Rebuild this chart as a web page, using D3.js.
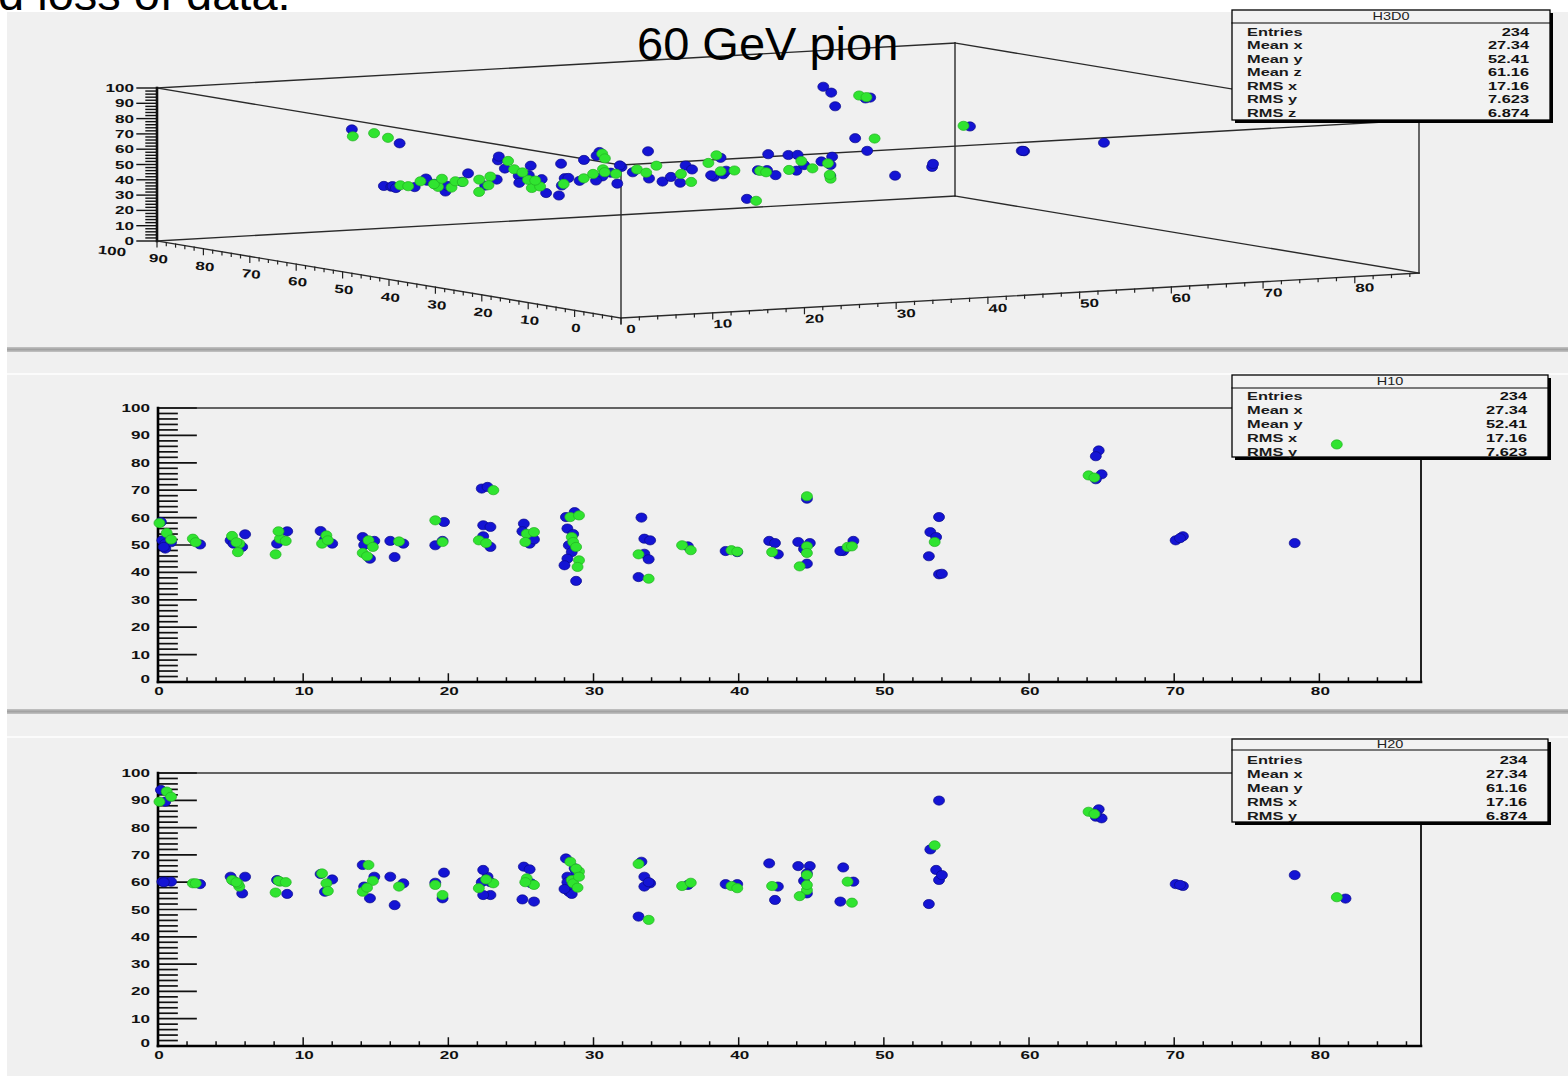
<!DOCTYPE html>
<html>
<head>
<meta charset="utf-8">
<script src="https://cdn.jsdelivr.net/npm/d3@7"></script>
<style>
  html, body { margin: 0; padding: 0; background: #ffffff; overflow: hidden; }
  svg { display: block; }
</style>
</head>
<body>
<svg id="canvas" width="1568" height="1076"></svg>
<script>
// Hits as [x, y, z] in detector cell units; two hit collections.
const hitsBlue = [
  [0.2,58.4,93.8],[0.5,48.7,89.5],[0.3,51.7,60.2],[0.5,50.5,60.2],[0.9,51,60.2],[0.4,49.3,60],
  [2.9,50.2,59.3],
  [5.0,51.7,62],[6.0,53.9,62],[5.8,49.3,55.9],[5.2,50.5,60.5],
  [8.2,50.5,60.8],[8.9,55,55.7],
  [11.2,55.1,63],[12.0,50.5,61],[11.5,52,56.5],
  [14.1,52.9,66.3],[14.9,51.5,62],[14.6,45,54.1],[14.2,50,58.4],
  [16.3,45.6,51.6],[16.9,50.5,59.6],[16.0,51.5,62],
  [19.7,58.4,63.5],[19.1,49.9,59.8],[19.6,51.5,54.1],
  [22.3,70.6,60],[22.7,71.2,62],[22.4,57.2,64.5],[22.9,56.6,55.3],[22.4,53.2,55.3],[22.9,49.3,60],
  [25.2,57.8,65.7],[25.6,50.5,64.7],[25.7,53,59.6],[25.1,55,53.7],[25.9,52,52.9],
  [28.1,60.2,68.7],[28.7,62,65.1],[28.2,56,62],[28.6,54,58.4],[28.3,49.9,56.5],[28.5,47.4,55.7],
  [28.2,45,60],[28.0,42.6,57.5],[28.8,36.9,64],
  [33.3,60,67.5],[33.5,52.3,62],[33.9,51.7,59.6],[33.5,46.8,58.4],[33.8,44.8,60],[33.1,38.3,47.4],
  [36.5,49.5,59],
  [39.1,47.8,59.3],[39.9,47.4,59.3],
  [42.1,51.5,66.9],[42.5,50.7,53.5],[42.7,46.6,58.4],
  [44.7,66.9,55.9],[44.1,51.1,65.9],[44.9,50.7,65.9],[44.7,43.2,63.2],[44.5,48.5,60.5],
  [47.2,47.8,65.4],[47.0,47.8,52.9],[47.9,51.5,60.2],
  [53.8,60.2,89.9],[53.2,54.7,72],[53.6,52.9,64.5],[53.1,45.9,52],[53.8,39.3,60.8],[54.0,39.5,62.6],
  [64.8,84.5,86.7],[64.6,82.4,84],[65.0,75.8,83.4],[64.6,74,85],
  [70.1,51.7,59.3],[70.6,53.2,58.6],[70.4,52.5,59],
  [78.3,50.7,62.6],
  [81.8,86.5,54]
];
const hitsGreen = [
  [0.1,58,89.5],[0.6,54.4,93.2],[0.9,52,91.3],
  [2.4,52.3,59.6],[2.6,51,59.6],
  [5.1,53.3,60.8],[5.6,50.5,58.4],[5.5,47.4,59.5],[5.4,51,60],
  [8.1,46.6,56.2],[8.4,52.3,60.2],[8.3,55,60.5],[8.8,51.5,60],
  [11.3,50.5,63.2],[11.6,53.5,59.6],[11.7,51.7,56.8],
  [14.5,51.7,66.3],[14.1,47.1,56.5],[14.8,49.3,60.5],[14.4,45.9,58],
  [16.6,51.3,58.4],
  [19.1,59,59],[19.6,51.1,55.3],
  [23.1,70,59.6],[22.1,51.7,57.8],[22.6,50.7,61],
  [25.4,54.1,61.4],[25.9,54.7,59],[25.3,51.1,60],
  [28.4,60.2,67.5],[29.0,60.8,63.9],[28.5,52.9,60.8],[28.6,51.1,59.6],[28.8,49.3,65],[29.0,44.4,62],[28.9,42,58],
  [33.1,46.6,66.7],[33.8,37.7,46.2],
  [36.1,49.9,58.6],[36.7,48.1,59.8],
  [39.5,48.1,58.6],[39.9,47.6,57.8],
  [42.3,47.4,58.6],
  [44.7,67.8,57.1],[44.7,49.5,62.6],[44.7,47.1,59],[44.2,42.2,54.9],
  [47.5,49.3,60.2],[47.8,49.5,52.5],
  [53.5,51.1,73.5],
  [64.1,75.4,85.8],[64.5,74.6,85],
  [81.2,86.7,54.5]
];

// Axis ranges and tick labels
const xRange = [0, 87];
const vRange = [0, 100];
const xTickLabels = [0, 10, 20, 30, 40, 50, 60, 70, 80];
const vTickLabels = [0, 10, 20, 30, 40, 50, 60, 70, 80, 90, 100];

// Statistics boxes
const statNames3D = ["Entries", "Mean x", "Mean y", "Mean z", "RMS x", "RMS y", "RMS z"];
const statValues3D = ["234", "27.34", "52.41", "61.16", "17.16", "7.623", "6.874"];
const statNamesXY = ["Entries", "Mean x", "Mean y", "RMS x", "RMS y"];
const statValuesXY = ["234", "27.34", "52.41", "17.16", "7.623"];
const statNamesXZ = ["Entries", "Mean x", "Mean y", "RMS x", "RMS y"];
const statValuesXZ = ["234", "27.34", "61.16", "17.16", "6.874"];

const titleText = "60 GeV pion";
const headerText = "d loss of data.";

const COL_BLUE = "#1414d4";
const COL_GREEN = "#30e430";
const SX = 1.45;        // horizontal stretch of the canvas text
const FONT = '"Liberation Sans", Arial, Helvetica, sans-serif';

const svg = d3.select("#canvas");

function txt(g, x, y, s, o = {}) {
  return g.append("text")
    .attr("transform", `translate(${x},${y}) rotate(${o.rot || 0}) scale(${o.sx || SX},1)`)
    .attr("text-anchor", o.anchor || "middle")
    .attr("dominant-baseline", "central")
    .attr("font-family", FONT)
    .attr("font-weight", o.weight || "bold")
    .attr("font-size", o.size || 11.8)
    .attr("fill", o.fill || "#111")
    .text(s);
}

function line(g, x1, y1, x2, y2, stroke, w) {
  g.append("line").attr("x1", x1).attr("y1", y1).attr("x2", x2).attr("y2", y2)
    .attr("stroke", stroke).attr("stroke-width", w).attr("stroke-linecap", "square");
}

function markers(g, pts, color, stroke) {
  g.selectAll(null).data(pts).enter().append("ellipse")
    .attr("cx", d => d[0]).attr("cy", d => d[1])
    .attr("rx", 5.5).attr("ry", 4.6)
    .attr("fill", color).attr("stroke", stroke).attr("stroke-width", 0.7);
}

function statsBox(g, b, title, names, values) {
  g.append("rect").attr("x", b.x0 + 3).attr("y", b.y0 + 3)
    .attr("width", b.x1 - b.x0).attr("height", b.y1 - b.y0).attr("fill", "#000");
  g.append("rect").attr("x", b.x0).attr("y", b.y0)
    .attr("width", b.x1 - b.x0).attr("height", b.y1 - b.y0)
    .attr("fill", "#f2f2f2").attr("stroke", "#000").attr("stroke-width", 1.3);
  line(g, b.x0, b.sep, b.x1, b.sep, "#000", 1.2);
  txt(g, (b.x0 + b.x1) / 2, (b.y0 + b.sep) / 2 + 0.5, title, { weight: "normal", size: 10, fill: "#222" });
  names.forEach((n, i) => {
    const y = b.row0 + i * b.step;
    txt(g, b.x0 + 15, y, n, { anchor: "start", size: 11.3, fill: "#1a1a1a" });
    txt(g, b.x1 - 21, y, values[i], { anchor: "end", size: 11.3, fill: "#111" });
  });
}

// ---- canvas and pads ----
svg.append("rect").attr("x", 7).attr("y", 12).attr("width", 1561).attr("height", 1064).attr("fill", "#f0f0f0");
[347, 709].forEach(y => {
  svg.append("rect").attr("x", 7).attr("y", y).attr("width", 1561).attr("height", 5).attr("fill", "#bdbdbd");
  svg.append("rect").attr("x", 7).attr("y", y + 1.5).attr("width", 1561).attr("height", 2).attr("fill", "#a2a2a2");
});
[373, 736].forEach(y => {
  svg.append("rect").attr("x", 7).attr("y", y).attr("width", 1561).attr("height", 2).attr("fill", "#fbfbfb");
});

// ---- 3D view ----
const g3 = svg.append("g");
const fx = d3.scaleLinear().domain(xRange).range([0, 1]);
const fy = d3.scaleLinear().domain(vRange).range([0, 1]);
const fz = d3.scaleLinear().domain(vRange).range([0, 1]);
const O = [621, 318], EX = [798, -45], EY = [-464, -77], EZ = [0, -153];
function proj(x, y, z) {
  const a = fx(x), b = fy(y), c = fz(z);
  return [O[0] + a * EX[0] + b * EY[0] + c * EZ[0], O[1] + a * EX[1] + b * EY[1] + c * EZ[1]];
}
const X1 = xRange[1], V1 = vRange[1];
const edges = [
  [[0,0,0],[X1,0,0]], [[0,0,0],[0,V1,0]], [[X1,0,0],[X1,V1,0]], [[0,V1,0],[X1,V1,0]],
  [[0,0,V1],[X1,0,V1]], [[0,0,V1],[0,V1,V1]], [[X1,0,V1],[X1,V1,V1]], [[0,V1,V1],[X1,V1,V1]],
  [[0,0,0],[0,0,V1]], [[X1,0,0],[X1,0,V1]], [[X1,V1,0],[X1,V1,V1]]
];
edges.forEach(([p, q]) => {
  const a = proj(...p), b = proj(...q);
  line(g3, a[0], a[1], b[0], b[1], "#2a2a2a", 1.4);
});
// vertical axis (z)
{
  const a = proj(0, V1, 0), b = proj(0, V1, V1);
  line(g3, a[0], a[1], b[0], b[1], "#111", 2.6);
  for (let v = 0; v <= 100; v += 2) {
    const p = proj(0, V1, v);
    const major = v % 10 === 0;
    line(g3, p[0] - (major ? 20 : 11), p[1], p[0], p[1], "#111", 1.4);
  }
  vTickLabels.forEach(v => {
    const p = proj(0, V1, v);
    txt(g3, 134, p[1], String(v), { anchor: "end" });
  });
}
// front-left axis (y)
for (let v = 0; v <= 100; v += 2) {
  const p = proj(0, v, 0);
  line(g3, p[0], p[1], p[0], p[1] + (v % 10 === 0 ? 6 : 3), "#222", 1.2);
}
vTickLabels.forEach(v => {
  const p = proj(0, v, 0);
  txt(g3, p[0] - 45, p[1] + 10, String(v), { rot: 6 });
});
// front-right axis (x)
for (let v = 0; v <= 86; v += 2) {
  const p = proj(v, 0, 0);
  line(g3, p[0], p[1], p[0], p[1] + (v % 10 === 0 ? 6 : 3), "#222", 1.2);
}
xTickLabels.forEach(v => {
  const p = proj(v, 0, 0);
  txt(g3, p[0] + 10, p[1] + 11, String(v), { rot: -3 });
});
markers(g3, hitsBlue.map(d => proj(d[0], d[1], d[2])), COL_BLUE, "#0a0a8a");
markers(g3, hitsGreen.map(d => proj(d[0], d[1], d[2])), COL_GREEN, "#22b022");
statsBox(g3, { x0: 1232, y0: 10, x1: 1550, y1: 120, sep: 23, row0: 31.5, step: 13.5 }, "H3D0", statNames3D, statValues3D);

// ---- 2D projections ----
function panel(top, bottom, vIndex, box, title, names, values) {
  const g = svg.append("g");
  const xs = d3.scaleLinear().domain(xRange).range([158, 1421]);
  const vs = d3.scaleLinear().domain(vRange).range([bottom, top]);
  // frame
  line(g, xs(0), top, xs(X1), top, "#333", 1.5);
  line(g, xs(X1), top, xs(X1), bottom, "#222", 2);
  // ticks on the vertical axis
  for (let v = 0; v <= 100; v += 2) {
    const major = v % 10 === 0;
    line(g, xs(0), vs(v), xs(0) + (major ? 38 : 19), vs(v), "#111", 1.7);
  }
  vTickLabels.forEach(v => txt(g, 150, vs(v) - (v === 0 ? 3 : 0), String(v), { anchor: "end" }));
  // ticks on the horizontal axis
  for (let v = 0; v <= 86; v += 2) {
    const major = v % 10 === 0;
    line(g, xs(v), bottom, xs(v), bottom - (major ? 8 : 4), "#111", 1.5);
  }
  xTickLabels.forEach(v => txt(g, xs(v) + 1, bottom + 9, String(v)));
  line(g, xs(0), top, xs(0), bottom, "#000", 2.6);
  line(g, xs(0), bottom, xs(X1), bottom, "#000", 2.6);
  markers(g, hitsBlue.map(d => [xs(d[0]), vs(d[vIndex])]), COL_BLUE, "#0a0a8a");
  statsBox(g, box, title, names, values);
  markers(g, hitsGreen.map(d => [xs(d[0]), vs(d[vIndex])]), COL_GREEN, "#22b022");
}
panel(408, 682, 1, { x0: 1232, y0: 375, x1: 1548, y1: 457, sep: 388, row0: 395.5, step: 14 }, "H10", statNamesXY, statValuesXY);
panel(773, 1046, 2, { x0: 1232, y0: 739, x1: 1548, y1: 822, sep: 750, row0: 760, step: 13.9 }, "H20", statNamesXZ, statValuesXZ);

// ---- slide text ----
svg.append("text").attr("x", 637).attr("y", 60)
  .attr("font-family", FONT).attr("font-size", 47).attr("fill", "#000").text(titleText);
svg.append("text").attr("x", -2).attr("y", 10)
  .attr("font-family", FONT).attr("font-size", 47).attr("fill", "#000").text(headerText);
</script>
</body>
</html>
